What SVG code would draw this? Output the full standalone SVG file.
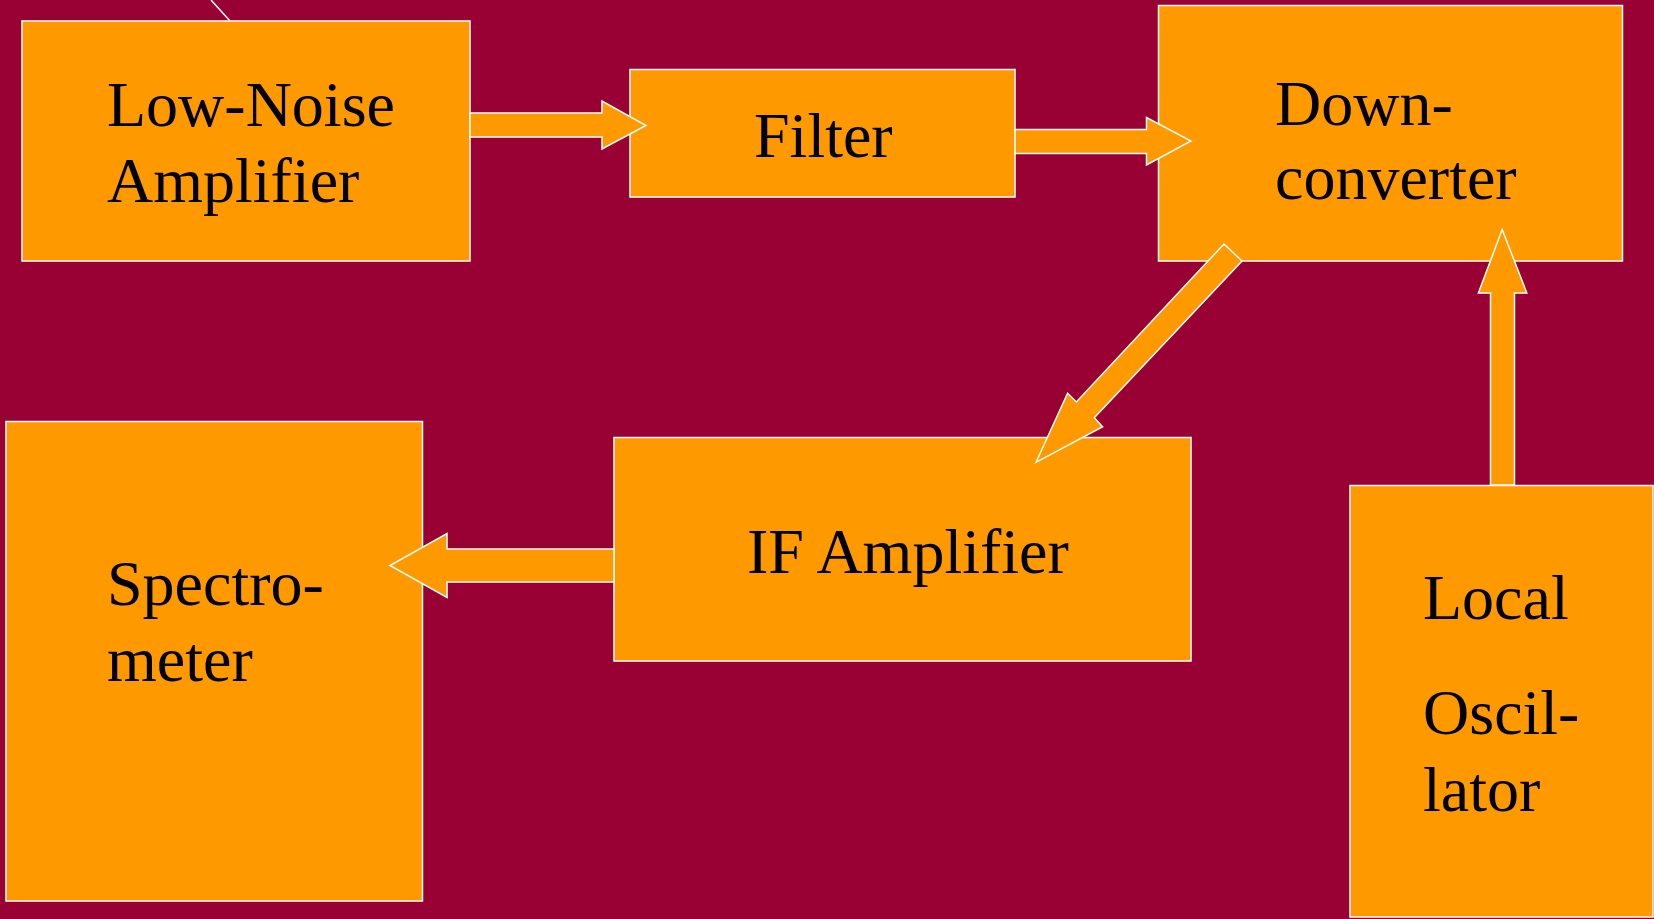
<svg xmlns="http://www.w3.org/2000/svg" width="1654" height="919" viewBox="0 0 1654 919">
<style>
.box{fill:#FF9900;stroke:#FFFFFF;stroke-width:1.5}
.arr{fill:#FF9900;stroke:#FFFFFF;stroke-width:1.5;stroke-linejoin:miter}
.t{font-family:"Liberation Serif","Times New Roman",serif;font-size:64px;fill:#000000}
</style>
<rect x="0" y="0" width="1654" height="919" fill="#990033"/>
<line x1="211" y1="0" x2="230" y2="21" stroke="#FFFFFF" stroke-width="1.5"/>
<g id="lna">
<rect class="box" x="22" y="21" width="448" height="240"/>
<text class="t" x="107" y="126">Low-Noise</text>
<text class="t" x="107" y="202">Amplifier</text>
</g>
<g id="filter">
<rect class="box" x="630" y="69.5" width="385" height="127.5"/>
<text class="t" x="754" y="157">Filter</text>
</g>
<g id="downconverter">
<rect class="box" x="1158.5" y="5.5" width="464" height="255.5"/>
<text class="t" x="1275" y="125">Down-</text>
<text class="t" x="1275" y="198.5">converter</text>
</g>
<g id="ifamp">
<rect class="box" x="614" y="437.5" width="577" height="223.5"/>
<text class="t" x="747" y="572.5">IF Amplifier</text>
</g>
<g id="spectrometer">
<rect class="box" x="6" y="421.5" width="416.5" height="479.5"/>
<text class="t" x="107" y="605">Spectro-</text>
<text class="t" x="107" y="681">meter</text>
</g>
<g id="lo">
<rect class="box" x="1350" y="485.5" width="303" height="431.5"/>
<text class="t" x="1423" y="619">Local</text>
<text class="t" x="1423" y="734">Oscil-</text>
<text class="t" x="1423" y="811">lator</text>
</g>
<g id="connectors">
<polygon class="arr" points="470,113 602,113 602,101 646,125.5 602,149 602,137 470,137"/>
<polygon class="arr" points="1015,129.5 1146.5,129.5 1146.5,117.5 1191,141 1146.5,165 1146.5,153.5 1015,153.5"/>
<polygon class="arr" points="1224,244 1242,261 1094.3,417.7 1102.6,426.7 1036,462.3 1067.6,393.3 1076.3,402"/>
<polygon class="arr" points="1490.5,485 1490.5,293 1478.4,293 1502.2,229.5 1526.8,293 1514.5,293 1514.5,485"/>
<polygon class="arr" points="614,549 447,549 447,533.5 390,565.5 447,597.5 447,582 614,582"/>
</g>
</svg>
